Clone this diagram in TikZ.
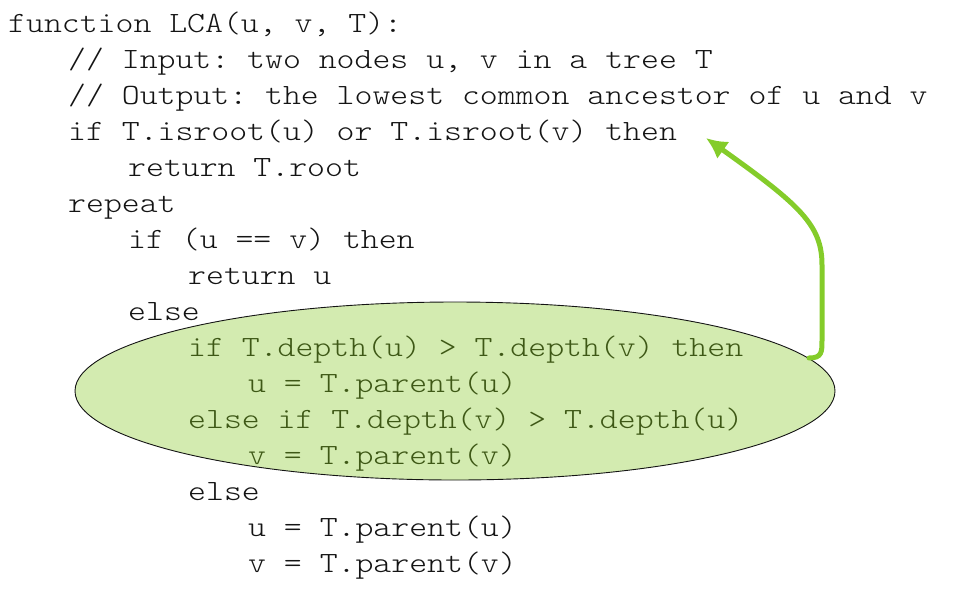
\documentclass[tikz,border=0pt]{standalone}
\usepackage{fontspec}
\setmonofont{Latin Modern Mono Light}[FakeStretch=1.16]
\usetikzlibrary{shapes.geometric,arrows.meta}
\definecolor{codeblack}{RGB}{20,20,20}
\definecolor{codegreen}{RGB}{62,88,22}
\definecolor{ellfill}{RGB}{211,235,176}
\definecolor{arrgreen}{RGB}{132,204,42}
\tikzset{
  codeline/.style={anchor=base west, inner sep=0pt, text=codeblack,
    font=\ttfamily\fontsize{29.4}{36}\selectfont},
  hiline/.style={codeline, text=codegreen},
  hiell/.style={ellipse, draw=codeblack, line width=0.9pt, fill=ellfill,
    minimum width=760pt, minimum height=178pt, inner sep=0pt},
  backarrow/.style={draw=arrgreen, line width=5pt, line cap=round, line join=round,
    -{Latex[length=21pt,width=21pt]}}
}
\begin{document}
\begin{tikzpicture}[x=1pt,y=-1pt]
\useasboundingbox (0,0) rectangle (962,606);
\node[hiell] (ell) at (455,391) {};
\node[codeline] (l0) at (8,32) {function LCA(u, v, T):};
\node[codeline] (l1) at (68,68) {// Input: two nodes u, v in a tree T};
\node[codeline] (l2) at (68,104) {// Output: the lowest common ancestor of u and v};
\node[codeline] (l3) at (68,140) {if T.isroot(u) or T.isroot(v) then};
\node[codeline] (l4) at (128,176) {return T.root};
\node[codeline] (l5) at (68,212) {repeat};
\node[codeline] (l6) at (128,248) {if (u == v) then};
\node[codeline] (l7) at (188,284) {return u};
\node[codeline] (l8) at (128,320) {else};
\node[hiline] (l9) at (188,356) {if T.depth(u) > T.depth(v) then};
\node[hiline] (l10) at (248,392) {u = T.parent(u)};
\node[hiline] (l11) at (188,428) {else if T.depth(v) > T.depth(u)};
\node[hiline] (l12) at (248,464) {v = T.parent(v)};
\node[codeline] (l13) at (188,500) {else};
\node[codeline] (l14) at (248,536) {u = T.parent(u)};
\node[codeline] (l15) at (248,572) {v = T.parent(v)};
\coordinate (as) at (809,358);
\coordinate (ae) at (706,138);
\draw[backarrow] (as) .. controls (822,358) and (822,352) .. (822,340)
  -- (822,265) .. controls (822,225) and (800,205) .. (ae);
\end{tikzpicture}
\end{document}
